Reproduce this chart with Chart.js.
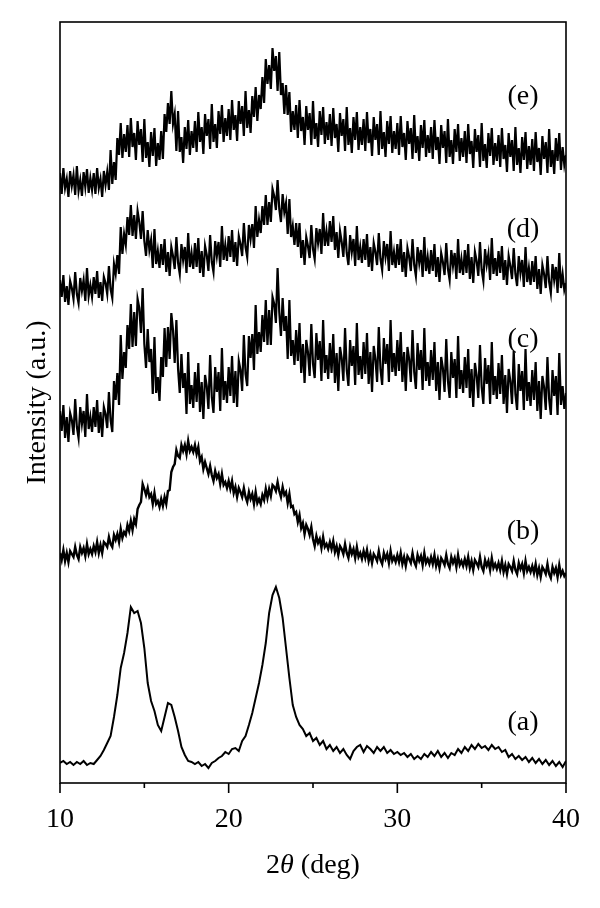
<!DOCTYPE html>
<html>
<head>
<meta charset="utf-8">
<script src="https://cdn.jsdelivr.net/npm/chart.js@4.4.1/dist/chart.umd.min.js"></script>
<style>
  html, body { margin: 0; padding: 0; background: #fff; }
  #wrap { width: 600px; height: 908px; position: relative; }
</style>
</head>
<body>
<div id="wrap"><canvas id="xrdChart"></canvas></div>
<script>
// ===============================
// DATA (stacked XRD patterns, a.u.)
// ===============================
// coarse grid, used by trace (a)
const twoTheta = [
  10, 10.2, 10.4, 10.6, 10.8, 11, 11.2, 11.4, 11.6, 11.8,
  12, 12.2, 12.4, 12.6, 12.8, 13, 13.2, 13.4, 13.6, 13.8,
  14, 14.2, 14.4, 14.6, 14.8, 15, 15.2, 15.4, 15.6, 15.8,
  16, 16.2, 16.4, 16.6, 16.8, 17, 17.2, 17.4, 17.6, 17.8,
  18, 18.2, 18.4, 18.6, 18.8, 19, 19.2, 19.4, 19.6, 19.8,
  20, 20.2, 20.4, 20.6, 20.8, 21, 21.2, 21.4, 21.6, 21.8,
  22, 22.2, 22.4, 22.6, 22.8, 23, 23.2, 23.4, 23.6, 23.8,
  24, 24.2, 24.4, 24.6, 24.8, 25, 25.2, 25.4, 25.6, 25.8,
  26, 26.2, 26.4, 26.6, 26.8, 27, 27.2, 27.4, 27.6, 27.8,
  28, 28.2, 28.4, 28.6, 28.8, 29, 29.2, 29.4, 29.6, 29.8,
  30, 30.2, 30.4, 30.6, 30.8, 31, 31.2, 31.4, 31.6, 31.8,
  32, 32.2, 32.4, 32.6, 32.8, 33, 33.2, 33.4, 33.6, 33.8,
  34, 34.2, 34.4, 34.6, 34.8, 35, 35.2, 35.4, 35.6, 35.8,
  36, 36.2, 36.4, 36.6, 36.8, 37, 37.2, 37.4, 37.6, 37.8,
  38, 38.2, 38.4, 38.6, 38.8, 39, 39.2, 39.4, 39.6, 39.8,
  40
];

// fine grid, used by the noisy traces (b)-(e)
const twoThetaFine = [
  10, 10.1, 10.2, 10.3, 10.4, 10.5, 10.6, 10.7, 10.8, 10.9,
  11, 11.1, 11.2, 11.3, 11.4, 11.5, 11.6, 11.7, 11.8, 11.9,
  12, 12.1, 12.2, 12.3, 12.4, 12.5, 12.6, 12.7, 12.8, 12.9,
  13, 13.1, 13.2, 13.3, 13.4, 13.5, 13.6, 13.7, 13.8, 13.9,
  14, 14.1, 14.2, 14.3, 14.4, 14.5, 14.6, 14.7, 14.8, 14.9,
  15, 15.1, 15.2, 15.3, 15.4, 15.5, 15.6, 15.7, 15.8, 15.9,
  16, 16.1, 16.2, 16.3, 16.4, 16.5, 16.6, 16.7, 16.8, 16.9,
  17, 17.1, 17.2, 17.3, 17.4, 17.5, 17.6, 17.7, 17.8, 17.9,
  18, 18.1, 18.2, 18.3, 18.4, 18.5, 18.6, 18.7, 18.8, 18.9,
  19, 19.1, 19.2, 19.3, 19.4, 19.5, 19.6, 19.7, 19.8, 19.9,
  20, 20.1, 20.2, 20.3, 20.4, 20.5, 20.6, 20.7, 20.8, 20.9,
  21, 21.1, 21.2, 21.3, 21.4, 21.5, 21.6, 21.7, 21.8, 21.9,
  22, 22.1, 22.2, 22.3, 22.4, 22.5, 22.6, 22.7, 22.8, 22.9,
  23, 23.1, 23.2, 23.3, 23.4, 23.5, 23.6, 23.7, 23.8, 23.9,
  24, 24.1, 24.2, 24.3, 24.4, 24.5, 24.6, 24.7, 24.8, 24.9,
  25, 25.1, 25.2, 25.3, 25.4, 25.5, 25.6, 25.7, 25.8, 25.9,
  26, 26.1, 26.2, 26.3, 26.4, 26.5, 26.6, 26.7, 26.8, 26.9,
  27, 27.1, 27.2, 27.3, 27.4, 27.5, 27.6, 27.7, 27.8, 27.9,
  28, 28.1, 28.2, 28.3, 28.4, 28.5, 28.6, 28.7, 28.8, 28.9,
  29, 29.1, 29.2, 29.3, 29.4, 29.5, 29.6, 29.7, 29.8, 29.9,
  30, 30.1, 30.2, 30.3, 30.4, 30.5, 30.6, 30.7, 30.8, 30.9,
  31, 31.1, 31.2, 31.3, 31.4, 31.5, 31.6, 31.7, 31.8, 31.9,
  32, 32.1, 32.2, 32.3, 32.4, 32.5, 32.6, 32.7, 32.8, 32.9,
  33, 33.1, 33.2, 33.3, 33.4, 33.5, 33.6, 33.7, 33.8, 33.9,
  34, 34.1, 34.2, 34.3, 34.4, 34.5, 34.6, 34.7, 34.8, 34.9,
  35, 35.1, 35.2, 35.3, 35.4, 35.5, 35.6, 35.7, 35.8, 35.9,
  36, 36.1, 36.2, 36.3, 36.4, 36.5, 36.6, 36.7, 36.8, 36.9,
  37, 37.1, 37.2, 37.3, 37.4, 37.5, 37.6, 37.7, 37.8, 37.9,
  38, 38.1, 38.2, 38.3, 38.4, 38.5, 38.6, 38.7, 38.8, 38.9,
  39, 39.1, 39.2, 39.3, 39.4, 39.5, 39.6, 39.7, 39.8, 39.9,
  40
];

const traceA = [
  20, 22, 19, 21, 18, 21, 19, 22, 18, 20,
  19, 23, 27, 33, 40, 47, 66, 88, 115, 130,
  150, 176, 170, 172, 160, 135, 100, 82, 72, 58,
  52, 66, 80, 78, 66, 52, 36, 28, 22, 21,
  19, 21, 17, 19, 15, 20, 22, 25, 27, 31,
  29, 34, 35, 32, 42, 47, 58, 70, 85, 100,
  118, 140, 170, 188, 196, 185, 165, 135, 105, 78,
  66, 58, 54, 47, 50, 42, 45, 38, 42, 34,
  38, 32, 36, 30, 34, 28, 24, 32, 36, 38,
  31, 37, 34, 30, 36, 32, 36, 30, 33, 29,
  31, 28, 30, 26, 29, 24, 27, 24, 29, 26,
  31, 27, 32, 26, 30, 25, 30, 28, 34, 30,
  36, 32, 38, 34, 39, 35, 37, 33, 38, 34,
  36, 31, 33, 26, 29, 24, 27, 23, 26, 21,
  25, 20, 24, 19, 23, 18, 22, 17, 21, 16,
  22
];

const traceB = [
  230, 223, 233, 222, 230, 221, 232, 229, 226, 236,
  228, 224, 236, 230, 235, 227, 239, 229, 234, 229,
  237, 231, 241, 230, 238, 230, 241, 239, 236, 246,
  239, 236, 248, 243, 249, 241, 254, 245, 251, 248,
  258, 252, 262, 253, 264, 259, 274, 278, 281, 299,
  294, 288, 295, 286, 289, 279, 290, 279, 282, 276,
  284, 277, 286, 279, 292, 293, 311, 316, 319, 333,
  327, 325, 338, 332, 338, 329, 342, 332, 336, 331,
  338, 329, 336, 322, 326, 314, 321, 315, 309, 317,
  308, 302, 312, 305, 309, 299, 309, 298, 301, 295,
  302, 294, 302, 290, 296, 286, 295, 291, 286, 295,
  286, 281, 291, 284, 289, 279, 291, 280, 284, 279,
  288, 283, 294, 285, 294, 287, 298, 296, 292, 301,
  292, 286, 296, 288, 291, 280, 289, 276, 277, 269,
  271, 261, 268, 255, 260, 249, 258, 254, 248, 256,
  244, 237, 247, 240, 244, 235, 246, 236, 239, 234,
  241, 234, 242, 231, 237, 228, 237, 234, 229, 239,
  230, 225, 236, 229, 234, 225, 236, 226, 230, 224,
  232, 225, 233, 222, 229, 220, 229, 226, 222, 232,
  223, 219, 230, 224, 229, 220, 232, 222, 226, 221,
  228, 221, 230, 219, 226, 217, 227, 224, 220, 230,
  221, 217, 228, 222, 227, 218, 230, 220, 224, 219,
  226, 219, 228, 217, 224, 215, 225, 222, 218, 228,
  219, 215, 226, 220, 225, 216, 228, 218, 222, 217,
  224, 217, 226, 215, 222, 213, 223, 220, 216, 226,
  216, 212, 223, 217, 222, 213, 225, 215, 219, 214,
  220, 213, 222, 211, 218, 209, 219, 216, 212, 222,
  213, 209, 220, 214, 219, 210, 222, 212, 216, 211,
  217, 210, 219, 208, 215, 206, 216, 213, 209, 219,
  209, 205, 216, 210, 215, 206, 218, 208, 212, 207,
  210
];

const traceC = [
  372, 352, 378, 345, 366, 341, 370, 363, 348, 384,
  356, 345, 376, 359, 372, 346, 389, 354, 366, 351,
  376, 356, 383, 350, 371, 346, 376, 369, 355, 391,
  363, 351, 402, 383, 410, 378, 448, 404, 431, 415,
  458, 434, 479, 436, 471, 437, 484, 475, 450, 495,
  439, 415, 454, 421, 434, 389, 446, 390, 406, 382,
  426, 406, 455, 416, 456, 424, 470, 453, 420, 463,
  414, 390, 429, 395, 410, 369, 431, 379, 398, 375,
  411, 381, 420, 371, 401, 364, 408, 397, 374, 428,
  386, 370, 416, 391, 411, 372, 435, 383, 402, 380,
  416, 387, 427, 380, 412, 376, 422, 413, 392, 448,
  409, 397, 447, 425, 449, 413, 478, 429, 451, 431,
  468, 441, 483, 438, 473, 438, 486, 479, 460, 515,
  471, 447, 485, 452, 467, 424, 483, 427, 443, 418,
  453, 422, 460, 410, 439, 400, 443, 431, 407, 459,
  419, 405, 450, 423, 442, 402, 463, 410, 428, 404,
  440, 410, 449, 400, 430, 392, 436, 425, 402, 455,
  413, 397, 443, 417, 437, 398, 460, 408, 427, 404,
  441, 409, 450, 399, 431, 391, 437, 424, 401, 456,
  414, 398, 445, 419, 439, 401, 463, 411, 430, 407,
  443, 412, 451, 401, 431, 392, 436, 424, 401, 453,
  411, 394, 440, 413, 433, 393, 455, 402, 421, 397,
  433, 403, 441, 392, 421, 383, 426, 415, 391, 444,
  402, 385, 431, 405, 424, 385, 447, 394, 413, 390,
  426, 395, 434, 385, 414, 376, 420, 408, 385, 438,
  396, 379, 425, 399, 418, 379, 441, 388, 407, 384,
  420, 389, 428, 379, 408, 370, 414, 402, 379, 432,
  389, 373, 419, 392, 412, 373, 434, 382, 401, 377,
  413, 383, 421, 372, 402, 364, 407, 396, 373, 426,
  384, 368, 413, 387, 407, 368, 430, 378, 397, 374,
  390
];

const traceD = [
  503, 486, 508, 481, 497, 478, 502, 495, 484, 511,
  489, 480, 505, 492, 503, 482, 515, 487, 498, 486,
  506, 489, 512, 485, 501, 482, 506, 500, 489, 517,
  494, 485, 519, 509, 528, 509, 556, 529, 549, 538,
  566, 548, 578, 547, 568, 544, 572, 561, 544, 572,
  542, 527, 553, 533, 543, 515, 554, 519, 532, 515,
  539, 518, 544, 511, 531, 507, 536, 527, 514, 546,
  520, 509, 539, 523, 536, 510, 550, 516, 530, 514,
  540, 516, 545, 510, 532, 506, 537, 528, 512, 548,
  521, 511, 542, 527, 541, 516, 557, 523, 538, 522,
  547, 526, 553, 521, 541, 517, 547, 539, 527, 560,
  536, 526, 558, 544, 559, 535, 577, 546, 563, 550,
  577, 558, 588, 558, 581, 561, 594, 587, 573, 603,
  574, 561, 589, 571, 580, 549, 584, 546, 557, 538,
  560, 536, 560, 525, 543, 518, 546, 537, 525, 558,
  534, 524, 555, 540, 554, 529, 570, 537, 552, 537,
  562, 541, 567, 533, 551, 525, 552, 541, 526, 557,
  530, 518, 548, 531, 544, 517, 557, 523, 536, 520,
  544, 523, 549, 516, 536, 512, 540, 531, 518, 550,
  524, 513, 542, 526, 539, 512, 552, 518, 531, 515,
  539, 518, 544, 511, 531, 506, 535, 526, 512, 544,
  518, 507, 536, 520, 533, 506, 546, 512, 526, 509,
  533, 512, 539, 506, 526, 501, 530, 521, 508, 540,
  514, 503, 533, 517, 530, 504, 544, 510, 524, 508,
  533, 510, 539, 504, 526, 500, 531, 522, 507, 541,
  513, 502, 534, 518, 529, 503, 545, 509, 525, 507,
  532, 510, 537, 503, 523, 498, 527, 517, 504, 535,
  509, 497, 527, 510, 523, 496, 536, 501, 515, 498,
  522, 501, 527, 494, 514, 489, 518, 509, 495, 527,
  501, 490, 519, 503, 516, 490, 530, 495, 509, 493,
  500
];

const traceE = [
  610, 589, 615, 595, 604, 586, 612, 597, 608, 588,
  617, 592, 603, 587, 611, 596, 614, 590, 605, 593,
  610, 589, 615, 595, 604, 586, 612, 598, 611, 593,
  633, 599, 621, 603, 645, 628, 660, 625, 649, 631,
  658, 626, 665, 636, 650, 623, 662, 638, 654, 621,
  664, 625, 641, 616, 651, 627, 655, 617, 640, 623,
  652, 624, 669, 651, 680, 659, 692, 659, 669, 632,
  672, 631, 646, 620, 656, 634, 663, 628, 652, 635,
  662, 631, 671, 641, 656, 629, 669, 647, 664, 634,
  679, 641, 659, 635, 672, 649, 678, 641, 665, 647,
  674, 643, 683, 653, 668, 642, 682, 659, 677, 647,
  692, 655, 673, 650, 687, 666, 696, 662, 688, 674,
  706, 680, 724, 699, 718, 694, 735, 712, 727, 692,
  731, 688, 700, 669, 698, 668, 691, 651, 672, 653,
  678, 645, 683, 652, 666, 638, 677, 653, 670, 638,
  682, 644, 660, 636, 672, 648, 676, 639, 661, 643,
  669, 637, 675, 645, 659, 631, 670, 647, 664, 632,
  676, 638, 655, 630, 666, 643, 671, 633, 656, 638,
  664, 632, 671, 640, 654, 627, 666, 643, 659, 628,
  672, 634, 651, 626, 662, 639, 667, 630, 652, 634,
  660, 628, 667, 636, 650, 623, 662, 639, 655, 624,
  668, 630, 647, 622, 658, 635, 663, 626, 648, 630,
  656, 624, 663, 633, 646, 619, 658, 635, 652, 620,
  664, 626, 643, 619, 654, 631, 659, 622, 645, 626,
  652, 620, 659, 629, 642, 615, 654, 631, 648, 616,
  660, 622, 639, 615, 650, 627, 655, 618, 640, 622,
  648, 616, 655, 624, 638, 611, 650, 626, 643, 612,
  656, 618, 635, 610, 646, 623, 651, 614, 637, 618,
  644, 612, 651, 621, 635, 608, 647, 624, 641, 610,
  654, 616, 633, 609, 645, 622, 650, 613, 636, 618,
  628
];

const traceNames = ["(a)", "(b)", "(c)", "(d)", "(e)"];
const labelAngle = [37.45, 37.45, 37.45, 37.45, 37.45];
const labelLevel = [60, 251, 443, 553, 686];

const majorTicks = [10, 20, 30, 40];
const minorTicks = [15, 25, 35];

// ===============================
// HELPERS
// ===============================
const SERIF = '"Liberation Serif", "Times New Roman", serif';

function toPoints(xs, values) {
    return xs.map((t, i) => ({ x: t, y: values[i] }));
}

function makeDataset(name, xs, values, width) {
    return {
        label: name,
        data: toPoints(xs, values),
        borderColor: "#000",
        borderWidth: width,
        pointRadius: 0,
        tension: 0,
        fill: false
    };
}

// frame, tick marks, trace labels, x title
const decorPlugin = {
    id: "decor",
    afterDraw(chart) {
        const { ctx, chartArea: a, scales } = chart;
        const x = scales.x, y = scales.y;
        ctx.save();
        ctx.strokeStyle = "#000";
        ctx.lineWidth = 1.6;
        ctx.strokeRect(a.left, a.top, a.right - a.left, a.bottom - a.top);

        ctx.beginPath();
        majorTicks.forEach(v => {
            const px = x.getPixelForValue(v);
            ctx.moveTo(px, a.bottom);
            ctx.lineTo(px, a.bottom + 10);
        });
        minorTicks.forEach(v => {
            const px = x.getPixelForValue(v);
            ctx.moveTo(px, a.bottom);
            ctx.lineTo(px, a.bottom + 5);
        });
        ctx.stroke();

        ctx.fillStyle = "#000";
        ctx.font = "28px " + SERIF;
        ctx.textAlign = "center";
        ctx.textBaseline = "middle";
        traceNames.forEach((name, i) => {
            ctx.fillText(name, x.getPixelForValue(labelAngle[i]), y.getPixelForValue(labelLevel[i]));
        });

        // 2θ (deg) with italic theta
        const parts = [
            { t: "2", f: "28px " + SERIF },
            { t: "\u03B8", f: "italic 28px " + SERIF },
            { t: " (deg)", f: "28px " + SERIF }
        ];
        let total = 0;
        parts.forEach(p => { ctx.font = p.f; p.w = ctx.measureText(p.t).width; total += p.w; });
        let cx = (a.left + a.right) / 2 - total / 2;
        ctx.textAlign = "left";
        ctx.textBaseline = "alphabetic";
        parts.forEach(p => {
            ctx.font = p.f;
            ctx.fillText(p.t, cx, 873);
            cx += p.w;
        });
        ctx.restore();
    }
};

// ===============================
// CHART
// ===============================
const ctx = document.getElementById("xrdChart").getContext("2d");
new Chart(ctx, {
    type: "line",
    data: {
        datasets: [
            makeDataset("(a)", twoTheta, traceA, 2),
            makeDataset("(b)", twoThetaFine, traceB, 2.4),
            makeDataset("(c)", twoThetaFine, traceC, 2.2),
            makeDataset("(d)", twoThetaFine, traceD, 2.2),
            makeDataset("(e)", twoThetaFine, traceE, 2.2)
        ]
    },
    options: {
        responsive: true,
        maintainAspectRatio: false,
        animation: false,
        devicePixelRatio: 1,
        layout: { padding: { top: 22, right: 34, left: 0, bottom: 0 } },
        plugins: {
            legend: { display: false },
            tooltip: { enabled: false }
        },
        scales: {
            x: {
                type: "linear",
                min: 10,
                max: 40,
                afterFit(scale) { scale.height = 125; },
                grid: { display: false, drawTicks: false },
                border: { display: false },
                ticks: {
                    stepSize: 10,
                    padding: 20,
                    color: "#000",
                    maxRotation: 0,
                    font: { family: SERIF, size: 28 }
                },
                title: { display: false }
            },
            y: {
                min: 0,
                max: 761,
                afterFit(scale) { scale.width = 60; },
                grid: { display: false, drawTicks: false },
                border: { display: false },
                ticks: { display: false },
                title: {
                    display: true,
                    text: "Intensity (a.u.)",
                    color: "#000",
                    font: { family: SERIF, size: 28 },
                    padding: { top: 21, bottom: 0 }
                }
            }
        }
    },
    plugins: [decorPlugin]
});
</script>
</body>
</html>
